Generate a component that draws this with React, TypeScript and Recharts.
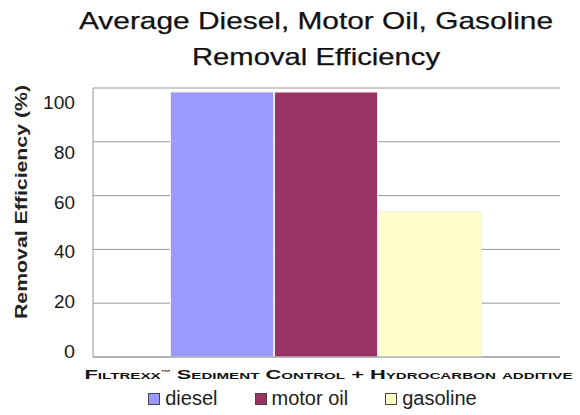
import React from 'react';
import { BarChart, Bar, XAxis, YAxis, CartesianGrid, Legend } from 'recharts';

const categories = ['Filtrexx™ Sediment Control + Hydrocarbon additive'];
const dieselValues = [98.5];
const motorOilValues = [98.5];
const gasolineValues = [54];
const yTicks = [0, 20, 40, 60, 80, 100];

const seriesList = [
  { key: 'diesel', label: 'diesel', color: '#9999ff' },
  { key: 'motorOil', label: 'motor oil', color: '#993366' },
  { key: 'gasoline', label: 'gasoline', color: '#ffffcc' },
];

const data = categories.map((name, i) => ({
  name,
  diesel: dieselValues[i],
  motorOil: motorOilValues[i],
  gasoline: gasolineValues[i],
}));

const FONT = 'Arial, "Liberation Sans", Helvetica, sans-serif';

// small caps category label under the axis (stretched wide like the original)
const CategoryTick = ({ x, y }: any) => (
  <text
    x={x + 2}
    y={y + 14}
    textAnchor="middle"
    fontFamily={FONT}
    fontSize={13}
    fontWeight="bold"
    fill="#111"
    textLength={488}
    lengthAdjust="spacingAndGlyphs"
    style={{ fontVariant: 'small-caps' }}
  >
    Filtrexx<tspan fontSize={6} dy={-5}>™</tspan>
    <tspan dy={5}> Sediment Control  +  Hydrocarbon additive</tspan>
  </text>
);

// the original's tick labels drift a little below their gridlines toward the top
const ValueTick = ({ x, y, payload }: any) => (
  <text
    x={x}
    y={y - 5 + 0.2 * payload.value}
    textAnchor="end"
    dominantBaseline="central"
    fontFamily={FONT}
    fontSize={18}
    fill="#1a1a1a"
    textLength={payload.value >= 100 ? 32 : payload.value > 0 ? 21 : 11}
    lengthAdjust="spacingAndGlyphs"
  >
    {payload.value}
  </text>
);

// rotated y axis title
const YTitle = () => {
  const cx = 21;
  const cy = 202;
  return (
    <text
      x={cx}
      y={cy}
      transform={`rotate(-90 ${cx} ${cy})`}
      textAnchor="middle"
      dominantBaseline="central"
      fontFamily={FONT}
      fontSize={17}
      fontWeight="bold"
      fill="#222"
      textLength={234}
      lengthAdjust="spacingAndGlyphs"
    >
      Removal Efficiency (%)
    </text>
  );
};

const LegendContent = () => (
  <div style={{ display: 'flex', justifyContent: 'center', gap: 37, fontFamily: FONT, fontSize: 20, color: '#222', paddingLeft: 65 }}>
    {seriesList.map(s => (
      <span key={s.key} style={{ display: 'flex', alignItems: 'center' }}>
        <span style={{ width: 10, height: 10, background: s.color, border: '1px solid #444', marginRight: 5, display: 'inline-block' }} />
        {s.label}
      </span>
    ))}
  </div>
);

export default function App() {
  return (
    <div style={{ position: 'absolute', left: 0, top: 0, width: 580, height: 415, background: '#fff' }}>
      <svg width={580} height={80} style={{ position: 'absolute', left: 0, top: 0 }}>
        <text x={316} y={29} textAnchor="middle" fontFamily={FONT} fontSize={24} fill="#111"
          stroke="#111" strokeWidth={0.25} textLength={474} lengthAdjust="spacingAndGlyphs">
          Average Diesel, Motor Oil, Gasoline
        </text>
        <text x={316} y={65} textAnchor="middle" fontFamily={FONT} fontSize={24} fill="#111"
          stroke="#111" strokeWidth={0.25} textLength={248} lengthAdjust="spacingAndGlyphs">
          Removal Efficiency
        </text>
      </svg>
      <div style={{ position: 'absolute', left: 0, top: 0 }}>
        <BarChart
          width={580}
          height={415}
          data={data}
          margin={{ top: 88, right: 20, bottom: 2, left: 0 }}
          barCategoryGap="16.6%"
          barGap={1}
        >
          <CartesianGrid vertical={false} stroke="#999" strokeWidth={1} />
          <XAxis
            dataKey="name"
            tick={<CategoryTick />}
            tickLine={false}
            axisLine={{ stroke: '#999' }}
            height={30}
          />
          <YAxis
            domain={[0, 100]}
            ticks={yTicks}
            width={93}
            tickLine={false}
            axisLine={{ stroke: '#999' }}
            tick={<ValueTick />}
            tickMargin={12}
            label={<YTitle />}
          />
          <Legend content={<LegendContent />} verticalAlign="bottom" height={26} />
          {seriesList.map(s => (
            <Bar key={s.key} dataKey={s.key} name={s.label} fill={s.color} stroke="#eee" strokeWidth={1} isAnimationActive={false} />
          ))}
        </BarChart>
      </div>
    </div>
  );
}
